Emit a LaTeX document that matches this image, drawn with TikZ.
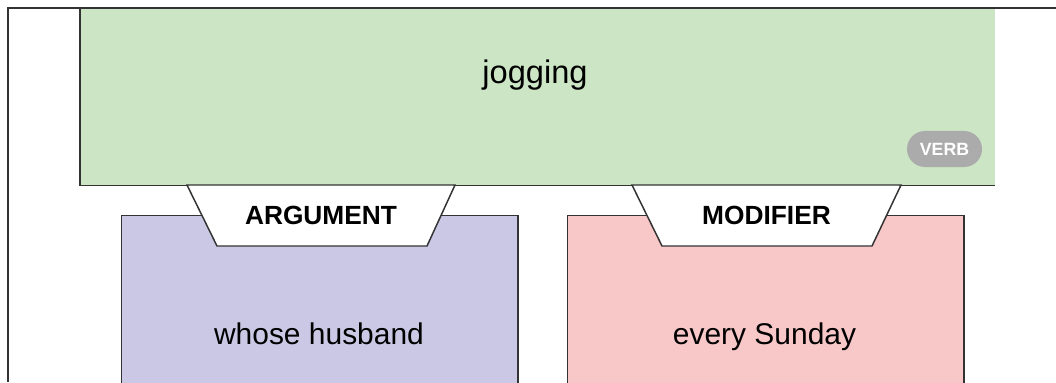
\documentclass[tikz,border=0pt]{standalone}
\usepackage{fontspec}
\setmainfont{Liberation Sans}
\usepackage{tikz}
\usetikzlibrary{shapes.geometric, positioning}
\definecolor{verbgreen}{HTML}{CCE5C4}
\definecolor{argblue}{HTML}{CAC8E4}
\definecolor{modpink}{HTML}{F8C8C8}
\definecolor{pillgray}{HTML}{ABABAB}
\definecolor{edgegray}{HTML}{333333}
\tikzset{
    verbbox/.style={rectangle, fill=verbgreen, minimum width=22.85cm, minimum height=4.425cm, inner sep=0pt, anchor=north west},
    rolebox/.style={rectangle, draw=edgegray, line width=1.05pt, minimum width=9.9cm, minimum height=5cm, inner sep=0pt, anchor=north west},
    tagshape/.style={draw=edgegray, line width=1.05pt, fill=white, line join=miter},
    tagtext/.style={font=\fontsize{18.7}{20}\selectfont\bfseries, inner sep=0pt},
    pill/.style={rectangle, rounded corners=0.45cm, fill=pillgray, text=white, font=\fontsize{12.6}{14}\selectfont\bfseries, minimum width=1.875cm, minimum height=0.9cm, inner sep=0pt},
    word/.style={font=\fontsize{21.3}{24}\selectfont, inner sep=0pt},
    frameline/.style={draw=edgegray, line width=1.05pt}
}

\begin{document}
\begin{tikzpicture}[x=0.025cm, y=0.025cm]
    \useasboundingbox (0,0) rectangle (1056,382);
    \clip (0,0) rectangle (1056,382);

    % verb frame
    \node (verb) [verbbox] at (80,374) {};
    \node (jog) [word, font=\fontsize{23.2}{26}\selectfont] at (535,307) {jogging};
    \node (verbtag) [pill] at (944.5,233) {VERB};
    \draw [frameline] (verb.north west) -- (verb.south west) -- (verb.south east);
    \draw [frameline] (8,0) -- (8,374) -- (1056,374);

    % argument and modifier
    \node (arg) [rolebox, fill=argblue] at (121,167) {};
    \node (mod) [rolebox, fill=modpink] at (567,167) {};
    \draw [tagshape] (187,197) -- (455,197) -- (427,136) -- (217,136) -- cycle;
    \draw [tagshape] (632,197) -- (901,197) -- (872,136) -- (662,136) -- cycle;
    \node (argtag) [tagtext] at (321,166.5) {ARGUMENT};
    \node (modtag) [tagtext] at (766.5,166.5) {MODIFIER};
    \node (argtext) [word, anchor=base] at (319,38) {whose husband};
    \node (modtext) [word, anchor=base] at (764.5,38) {every Sunday};
\end{tikzpicture}
\end{document}
